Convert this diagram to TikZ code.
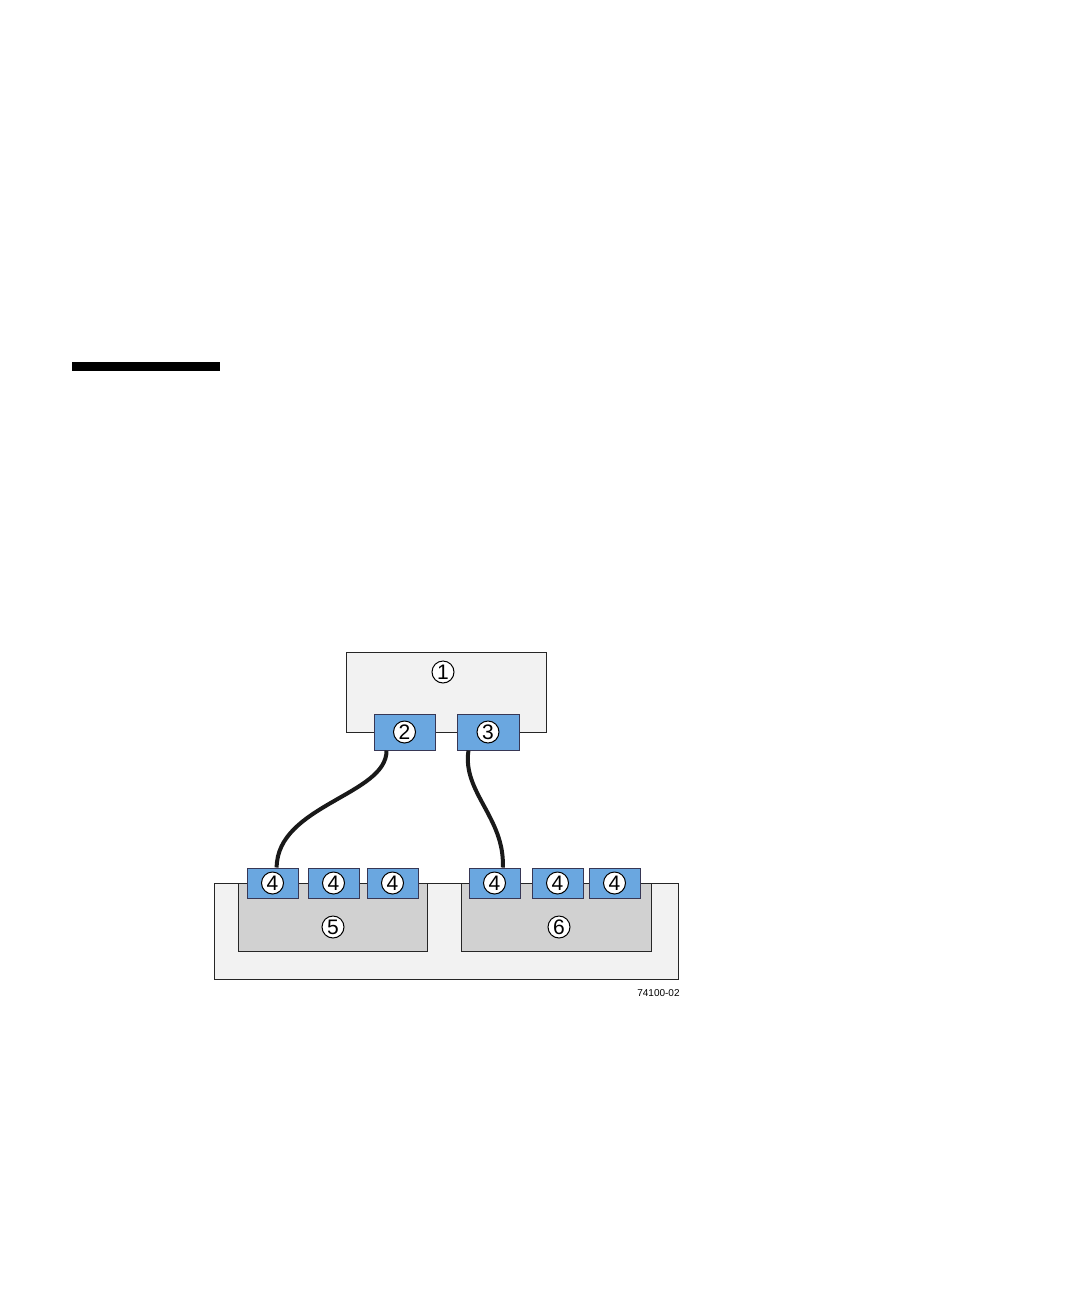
\documentclass[tikz,border=0pt]{standalone}
\usepackage{fontspec}
\setmainfont{Liberation Sans}
\usetikzlibrary{calc}
\definecolor{portblue}{RGB}{106,167,224}
\definecolor{portedge}{RGB}{55,55,85}
\begin{document}
\begin{tikzpicture}[x=0.5pt,y=-0.5pt,
  shelf/.style={draw=black!85,fill=black!5,line width=0.6pt,inner sep=0pt,anchor=north west},
  tray/.style={draw=black!85,fill=black!18,line width=0.6pt,inner sep=0pt,anchor=north west},
  port/.style={draw=portedge,fill=portblue,line width=0.5pt,inner sep=0pt},
  num/.style={circle,draw,fill=white,line width=0.5pt,inner sep=0pt,minimum size=11pt,font=\fontsize{10.5}{10.5}\selectfont},
  cable/.style={line width=2pt,black!90}]
\useasboundingbox (0,0) rectangle (1080,1296);
\fill (72,362) rectangle (220,371);

% controller tray with its two host ports
\node[shelf,minimum width=100pt,minimum height=40pt] (ctrl) at (346,652) {};
\node[num] (n1) at (443,672) {1};
\node[port,minimum width=30.5pt,minimum height=18pt] (p2) at (404.5,732) {};
\node[port,minimum width=31pt,minimum height=18pt] (p3) at (488,732) {};
\node[num] (n2) at (p2) {2};
\node[num] (n3) at (p3) {3};

% drive enclosure with two modules
\node[shelf,minimum width=232pt,minimum height=48pt] (encl) at (214,883) {};
\node[tray,minimum width=94.5pt,minimum height=34pt] (esm5) at (238,883) {};
\node[tray,minimum width=95pt,minimum height=34pt] (esm6) at (461,883) {};
\node[num] (n5) at (333,927) {5};
\node[num] (n6) at (559,927) {6};

\node[port,minimum width=25.5pt,minimum height=15pt] (a1) at (272.5,883) {};
\node[port,minimum width=25.5pt,minimum height=15pt] (a2) at (333.5,883) {};
\node[port,minimum width=25.5pt,minimum height=15pt] (a3) at (392.5,883) {};
\node[port,minimum width=25.5pt,minimum height=15pt] (b1) at (494.5,883) {};
\node[port,minimum width=25.5pt,minimum height=15pt] (b2) at (557.5,883) {};
\node[port,minimum width=25.5pt,minimum height=15pt] (b3) at (614.5,883) {};
\node[num] (na1) at (a1) {4};
\node[num] (na2) at (a2) {4};
\node[num] (na3) at (a3) {4};
\node[num] (nb1) at (b1) {4};
\node[num] (nb2) at (b2) {4};
\node[num] (nb3) at (b3) {4};

% cables
\coordinate (c2) at ($(p2.south west)!0.21!(p2.south east)$);
\coordinate (c3) at ($(p3.south west)!0.19!(p3.south east)$);
\coordinate (ca) at ($(a1.north west)!0.58!(a1.north east)$);
\coordinate (cb) at ($(b1.north west)!0.66!(b1.north east)$);
\draw[cable] (c2) .. controls (387,795) and (277,805) .. (ca);
\draw[cable] (c3) .. controls (462,792) and (505,818) .. (cb);

\node[anchor=east,inner sep=0pt,font=\fontsize{5}{6}\selectfont] (fig) at (680,993) {74100-02};
\end{tikzpicture}
\end{document}
